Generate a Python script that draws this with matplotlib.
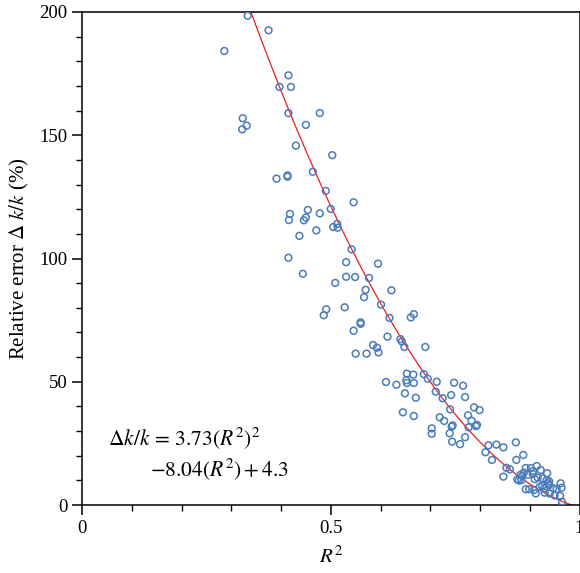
import numpy as np
import matplotlib
matplotlib.use("Agg")
import matplotlib.pyplot as plt
from matplotlib.ticker import MultipleLocator, FixedLocator

plt.rcParams['font.family'] = ['Liberation Serif', 'DejaVu Serif']
plt.rcParams['mathtext.fontset'] = 'stix'

# scatter data: R^2 and relative error (%)
r2 = [0.333, 0.375, 0.286, 0.415, 0.397, 0.420, 0.415, 0.478, 0.323, 0.331,
      0.322, 0.450, 0.430, 0.503, 0.464, 0.391, 0.413, 0.413, 0.490, 0.546,
      0.500, 0.418, 0.416, 0.454, 0.450, 0.446, 0.478, 0.513, 0.505, 0.514,
      0.471, 0.437, 0.542, 0.415, 0.531, 0.595, 0.444, 0.531, 0.549, 0.577,
      0.509, 0.570, 0.622, 0.567, 0.601, 0.491, 0.528, 0.486, 0.618, 0.661,
      0.667, 0.560, 0.560, 0.546, 0.614, 0.640, 0.643, 0.648, 0.690, 0.585,
      0.593, 0.596, 0.550, 0.572, 0.653, 0.666, 0.687, 0.695, 0.713, 0.748,
      0.766, 0.611, 0.632, 0.652, 0.653, 0.667, 0.649, 0.671, 0.711, 0.725,
      0.742, 0.770, 0.740, 0.788, 0.645, 0.667, 0.719, 0.728, 0.776, 0.783,
      0.777, 0.745, 0.743, 0.792, 0.703, 0.703, 0.739, 0.770, 0.744, 0.760,
      0.799, 0.794, 0.817, 0.833, 0.847, 0.872, 0.811, 0.887, 0.824, 0.873,
      0.853, 0.860, 0.847,
      0.892, 0.902, 0.914, 0.922, 0.907, 0.888, 0.881, 0.885, 0.875, 0.896,
      0.906, 0.910, 0.916, 0.926, 0.934, 0.939, 0.892, 0.899, 0.909, 0.912,
      0.920, 0.925, 0.929, 0.930, 0.937, 0.939, 0.947, 0.954, 0.962, 0.964,
      0.961, 0.965, 0.950, 0.940, 0.878, 0.883, 0.935]
err = [198.5, 192.6, 184.2, 174.3, 169.6, 169.6, 159.0, 159.0, 156.9, 153.9,
       152.4, 154.2, 145.8, 141.9, 135.2, 132.4, 133.7, 133.2, 127.4, 122.8,
       120.1, 118.1, 115.6, 119.7, 116.6, 115.5, 118.3, 114.0, 112.8, 112.5,
       111.4, 109.2, 103.7, 100.3, 98.5, 97.9, 93.8, 92.6, 92.5, 92.1,
       90.1, 87.3, 87.1, 84.3, 81.3, 79.4, 80.2, 77.0, 75.9, 76.1,
       77.4, 74.1, 73.5, 70.7, 68.3, 67.3, 66.3, 64.1, 64.1, 64.9,
       63.8, 61.9, 61.4, 61.4, 53.3, 52.9, 53.1, 51.2, 50.0, 49.6,
       48.4, 49.9, 48.8, 50.6, 49.5, 49.5, 45.3, 43.5, 46.0, 43.3,
       44.6, 43.8, 38.8, 39.6, 37.6, 36.1, 35.6, 34.1, 36.4, 34.2,
       31.5, 32.3, 31.8, 32.0, 31.1, 28.9, 29.1, 27.5, 25.7, 24.7,
       38.5, 32.5, 24.2, 24.5, 23.4, 25.4, 21.4, 20.3, 18.3, 18.3,
       15.1, 14.5, 11.5,
       15.0, 15.0, 15.8, 14.2, 13.8, 13.1, 12.2, 11.8, 10.4, 12.2,
       12.6, 10.5, 11.1, 10.8, 10.1, 9.6, 6.4, 6.4, 6.1, 4.7,
       7.4, 7.8, 6.8, 5.0, 8.8, 8.1, 6.8, 6.4, 8.8, 7.0,
       3.7, 1.3, 3.9, 4.7, 9.9, 10.1, 12.9]

# fitted quadratic shown in the chart (fraction, plotted in %)
fit_a, fit_b, fit_c = 3.73, -8.04, 4.3

fig = plt.figure(figsize=(5.8, 5.73), dpi=100)
ax = fig.add_axes([82 / 580, 68 / 573, 497.5 / 580, 493 / 573])

ax.scatter(r2, err, s=24, facecolors='none', edgecolors='#4a7bbd',
           linewidths=1.1, zorder=3)

xs = np.linspace(0.3, 1.0, 200)
ax.plot(xs, 100 * (fit_a * xs ** 2 + fit_b * xs + fit_c), color='#ee1c1c',
        lw=0.9, zorder=2)

ax.set_xlim(0, 1)
ax.set_ylim(0, 200)
ax.xaxis.set_major_locator(FixedLocator([0, 0.5, 1]))
ax.set_xticklabels(['0', '0.5', '1'])
ax.xaxis.set_minor_locator(MultipleLocator(0.1))
ax.yaxis.set_major_locator(MultipleLocator(50))
ax.yaxis.set_minor_locator(MultipleLocator(10))
ax.tick_params(which='major', direction='out', length=7, width=1.1,
               labelsize=13.5, top=False, right=False)
ax.tick_params(which='minor', direction='out', length=4.5, width=1.0,
               top=False, right=False)
for s in ax.spines.values():
    s.set_linewidth(1.1)

ax.set_xlabel(r'$R^2$', fontsize=15, labelpad=7)
ax.set_ylabel(r'Relative error $\Delta\ k/k$ (%)', fontsize=15, labelpad=6)

ax.text(0.052, 24.3, r'$\Delta k/k\, =\, 3.73(R^2)^2$', fontsize=15.5,
        va='baseline', ha='left')
ax.text(0.137, 11.8, r'$-8.04(R^2) + 4.3$', fontsize=15.5,
        va='baseline', ha='left')

fig.savefig('out.png', dpi=100)
